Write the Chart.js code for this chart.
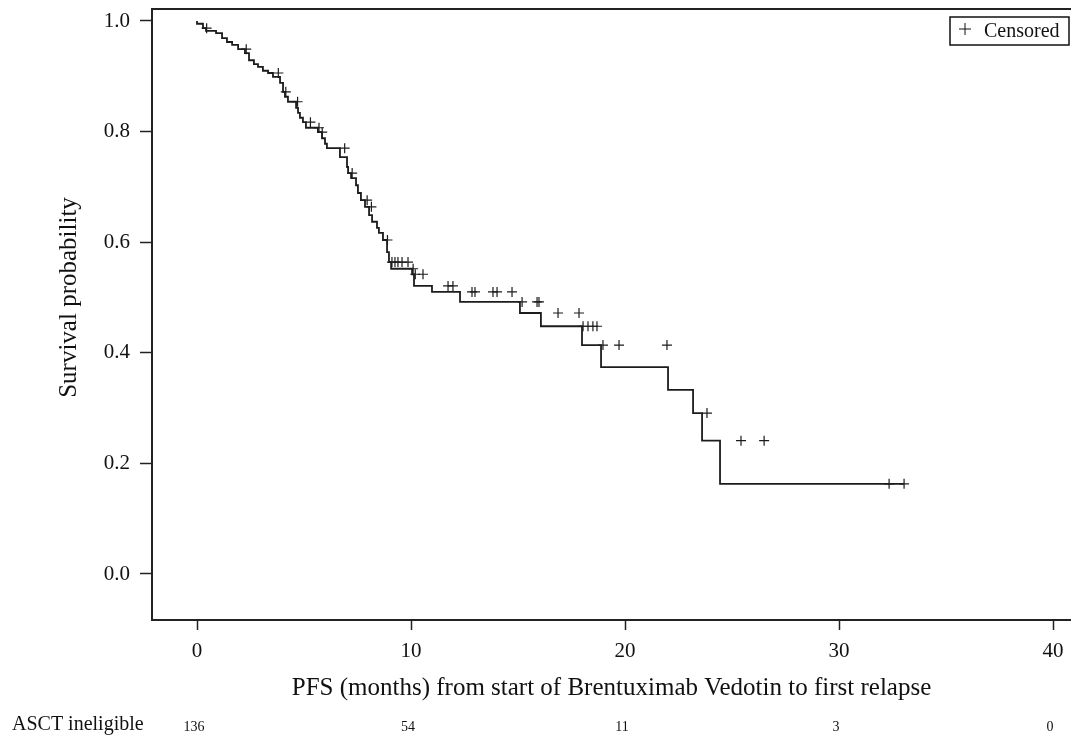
<!DOCTYPE html>
<html lang="en">
<head>
    <meta charset="UTF-8">
    <title>PFS - Brentuximab Vedotin</title>
    <style>
        html, body {
            margin: 0;
            padding: 0;
            background-color: #fff;
            overflow: hidden;
        }

        .chart-container {
            width: 1071px;
            height: 745px;
        }

        canvas {
            display: block;
        }
    </style>
    <script src="https://cdn.jsdelivr.net/npm/chart.js"></script>
</head>
<body>

<div class="chart-container">
    <canvas id="kmChart" width="1071" height="745"></canvas>
</div>

<script>
    // Kaplan-Meier steps: time (months) of each drop and survival after it
    const eventTimes = [0, 0.28, 0.42, 0.89, 1.17, 1.40, 1.64, 1.92, 2.24, 2.43,
        2.66, 2.85, 3.08, 3.32, 3.55, 3.88, 4.02, 4.11, 4.25, 4.63,
        4.72, 4.81, 4.95, 5.09, 5.65, 5.84, 5.98, 6.07, 6.68, 7.01,
        7.06, 7.20, 7.43, 7.52, 7.66, 7.85, 8.04, 8.18, 8.41, 8.50,
        8.69, 8.88, 8.97, 9.07, 10.05, 10.14, 10.98, 12.29, 15.09, 16.07,
        17.99, 18.88, 22.01, 23.18, 23.60, 24.44, 31.40, 33.04];
    const survival = [1.000, 0.995, 0.987, 0.982, 0.978, 0.969, 0.962, 0.957, 0.949, 0.942,
        0.929, 0.922, 0.917, 0.910, 0.906, 0.899, 0.888, 0.872, 0.863, 0.854,
        0.843, 0.834, 0.825, 0.817, 0.807, 0.799, 0.788, 0.778, 0.770, 0.754,
        0.736, 0.725, 0.716, 0.703, 0.689, 0.676, 0.664, 0.649, 0.637, 0.626,
        0.617, 0.604, 0.582, 0.564, 0.552, 0.542, 0.521, 0.510, 0.492, 0.472,
        0.448, 0.414, 0.374, 0.333, 0.291, 0.241, 0.163, 0.163];

    // Censored observations
    const censorTimes = [0.45, 2.30, 3.80, 4.15, 4.70, 5.30, 5.70, 5.85, 6.90, 7.25,
        7.95, 8.15, 8.90, 9.11, 9.25, 9.39, 9.58, 9.86, 10.10, 10.20,
        10.56, 11.73, 11.96, 12.85, 12.99, 13.83, 14.02, 14.72, 15.19, 15.89,
        15.98, 16.87, 17.85, 18.04, 18.27, 18.50, 18.69, 18.97, 19.72, 21.96,
        23.83, 25.42, 26.50, 32.34, 33.04];
    const censorSurv = [0.987, 0.949, 0.906, 0.872, 0.854, 0.817, 0.807, 0.799, 0.770, 0.725,
        0.676, 0.664, 0.604, 0.564, 0.564, 0.564, 0.564, 0.564, 0.552, 0.542,
        0.542, 0.521, 0.521, 0.510, 0.510, 0.510, 0.510, 0.510, 0.492, 0.492,
        0.492, 0.472, 0.472, 0.448, 0.448, 0.448, 0.448, 0.414, 0.414, 0.414,
        0.291, 0.241, 0.241, 0.163, 0.163];

    // Axis ticks
    const xTicks = [0, 10, 20, 30, 40];
    const yTicks = [0, 0.2, 0.4, 0.6, 0.8, 1.0];

    // Number at risk
    const riskLabel = 'ASCT ineligible';
    const riskTimes = [0, 10, 20, 30, 40];
    const riskCounts = [136, 54, 11, 3, 0];

    const serif = '"Liberation Serif", "DejaVu Serif", serif';

    // top edge of the plot box (left/bottom come from the axes, right is cut off)
    const framePlugin = {
        id: 'frame',
        afterDraw(chart) {
            const {ctx, chartArea: a} = chart;
            ctx.save();
            ctx.strokeStyle = '#222';
            ctx.lineWidth = 2;
            ctx.beginPath();
            ctx.moveTo(a.left - 1, a.top);
            ctx.lineTo(chart.width, a.top);
            ctx.stroke();
            ctx.restore();
        }
    };

    // y title centred on the 0..1 range, as in the original figure
    const yTitle = {
        id: 'yTitle',
        afterDraw(chart) {
            const {ctx} = chart;
            const ys = chart.scales.y;
            const mid = (ys.getPixelForValue(0) + ys.getPixelForValue(1)) / 2;
            ctx.save();
            ctx.translate(69, mid);
            ctx.rotate(-Math.PI / 2);
            ctx.fillStyle = '#111';
            ctx.font = '25px ' + serif;
            ctx.textAlign = 'center';
            ctx.textBaseline = 'middle';
            ctx.fillText('Survival probability', 0, 0);
            ctx.restore();
        }
    };

    // legend box in the top right corner
    const censorLegend = {
        id: 'censorLegend',
        afterDraw(chart) {
            const {ctx, chartArea: a} = chart;
            const x = a.right - 121, y = a.top + 8, w = 119, h = 28;
            ctx.save();
            ctx.strokeStyle = '#111';
            ctx.lineWidth = 1.5;
            ctx.strokeRect(x, y, w, h);
            ctx.beginPath();
            ctx.lineWidth = 1;
            ctx.moveTo(x + 9, y + h / 2 - 2);
            ctx.lineTo(x + 21, y + h / 2 - 2);
            ctx.moveTo(x + 15, y + h / 2 - 8);
            ctx.lineTo(x + 15, y + h / 2 + 4);
            ctx.stroke();
            ctx.fillStyle = '#111';
            ctx.font = '20px ' + serif;
            ctx.textBaseline = 'middle';
            ctx.fillText('Censored', x + 34, y + h / 2 + 1);
            ctx.restore();
        }
    };

    // number-at-risk row under the axis title
    const riskTable = {
        id: 'riskTable',
        afterDraw(chart) {
            const {ctx} = chart;
            const xs = chart.scales.x;
            const rowY = 725;
            ctx.save();
            ctx.fillStyle = '#111';
            ctx.textBaseline = 'middle';
            ctx.font = '20px ' + serif;
            ctx.textAlign = 'left';
            ctx.fillText(riskLabel, 12, rowY);
            ctx.font = '14px ' + serif;
            ctx.textAlign = 'center';
            riskTimes.forEach((t, i) => {
                ctx.fillText(String(riskCounts[i]), xs.getPixelForValue(t) - 3, rowY + 2);
            });
            ctx.restore();
        }
    };

    const curve = eventTimes.map((t, i) => ({x: t, y: survival[i]}));
    const censored = censorTimes.map((t, i) => ({x: t, y: censorSurv[i]}));

    const ctx = document.getElementById('kmChart').getContext('2d');
    const kmChart = new Chart(ctx, {
        type: 'scatter',
        data: {
            datasets: [
                {
                    label: 'Survival',
                    data: curve,
                    showLine: true,
                    stepped: 'after',
                    borderColor: '#1c1c1c',
                    borderWidth: 1.8,
                    pointRadius: 0,
                    fill: false
                },
                {
                    label: 'Censored',
                    data: censored,
                    showLine: false,
                    pointStyle: 'cross',
                    pointRadius: 5,
                    borderColor: '#1c1c1c',
                    borderWidth: 1.2
                }
            ]
        },
        options: {
            responsive: false,
            animation: false,
            layout: {
                autoPadding: false, // the point radius would otherwise pad the right edge
                padding: {top: 9, right: 0, bottom: 40, left: 0}
            },
            plugins: {
                legend: {display: false},
                tooltip: {enabled: false}
            },
            scales: {
                x: {
                    type: 'linear',
                    min: -2.103,
                    max: 40.84,
                    afterBuildTicks: scale => {
                        scale.ticks = xTicks.map(v => ({value: v}));
                    },
                    afterFit: scale => {
                        scale.height = 85;
                        scale.paddingLeft = 0;
                        scale.paddingRight = 0;
                    },
                    grid: {
                        drawOnChartArea: false,
                        drawTicks: true,
                        tickLength: 10,
                        tickColor: '#222',
                        tickWidth: 1.5
                    },
                    border: {color: '#222', width: 2},
                    ticks: {
                        color: '#111',
                        padding: 9,
                        maxRotation: 0,
                        font: {family: serif, size: 21}
                    },
                    title: {
                        display: true,
                        text: 'PFS (months) from start of Brentuximab Vedotin to first relapse',
                        color: '#111',
                        padding: {top: 2, bottom: 2},
                        font: {family: serif, size: 25}
                    }
                },
                y: {
                    type: 'linear',
                    min: -0.0832,
                    max: 1.0217,
                    afterBuildTicks: scale => {
                        scale.ticks = yTicks.map(v => ({value: v}));
                    },
                    afterFit: scale => {
                        scale.width = 152;
                        scale.paddingTop = 0;
                        scale.paddingBottom = 0;
                    },
                    grid: {
                        drawOnChartArea: false,
                        drawTicks: true,
                        tickLength: 12,
                        tickColor: '#222',
                        tickWidth: 1.5
                    },
                    border: {color: '#222', width: 2},
                    ticks: {
                        color: '#111',
                        padding: 10,
                        font: {family: serif, size: 21},
                        callback: v => v.toFixed(1)
                    },
                    title: {display: false}
                }
            }
        },
        plugins: [framePlugin, yTitle, censorLegend, riskTable]
    });
</script>

</body>
</html>
